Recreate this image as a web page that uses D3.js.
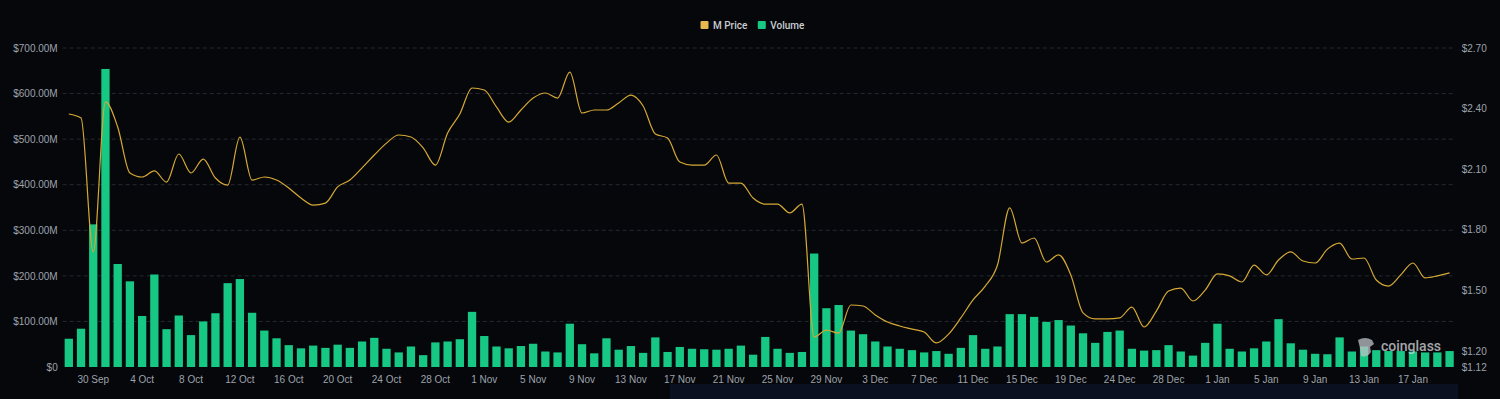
<!DOCTYPE html>
<html>
<head>
<meta charset="utf-8">
<script src="https://cdn.jsdelivr.net/npm/d3@7"></script>
<style>
  html, body { margin: 0; padding: 0; background: #05070b; }
  svg { display: block; font-family: Roboto, "Noto Sans", sans-serif; }
  .tick-label { fill: #9ea3ab; font-size: 10px; font-weight: 500; }
  .legend-label { fill: #c9ccd1; font-size: 10px; font-weight: 500; }
</style>
</head>
<body>
<script>

// categories: one bar per day, 28 Sep -> 20 Jan (one day has no record)
var startDay = new Date(2023, 8, 28),
    endDay = new Date(2024, 0, 21),
    missingDay = "21 Dec";

var fmt = d3.timeFormat("%-d %b");
var days = d3.timeDay.range(startDay, endDay)
    .map(function(d) { return fmt(d); })
    .filter(function(d) { return d != missingDay; });

// volume, millions of USD
var volume = [62, 84, 313, 654, 226, 188, 112, 203, 83, 113,
    70, 100, 118, 184, 193, 119, 80, 63, 48, 41,
    47, 42, 49, 42, 56, 64, 40, 32, 45, 26,
    54, 56, 61, 121, 68, 45, 41, 46, 51, 34,
    32, 95, 50, 30, 63, 38, 46, 31, 65, 33,
    44, 40, 39, 38, 40, 47, 27, 66, 40, 31,
    33, 249, 129, 136, 80, 72, 56, 45, 40, 37,
    32, 35, 29, 42, 70, 40, 45, 116, 116, 110,
    99, 103, 91, 74, 53, 77, 80, 40, 36, 37,
    48, 34, 25, 53, 95, 40, 34, 41, 56, 105,
    52, 38, 29, 28, 65, 34, 45, 37, 35, 35,
    34, 32, 32, 35];

// M price, USD
var price = [2.373, 2.353, 1.690, 2.433, 2.309, 2.081, 2.061, 2.091, 2.036, 2.175,
    2.081, 2.150, 2.056, 2.021, 2.259, 2.046, 2.061, 2.046, 2.007, 1.957,
    1.922, 1.932, 2.012, 2.046, 2.106, 2.170, 2.229, 2.269, 2.259, 2.205,
    2.120, 2.279, 2.373, 2.502, 2.492, 2.408, 2.333, 2.393, 2.452, 2.477,
    2.452, 2.581, 2.378, 2.393, 2.393, 2.428, 2.467, 2.413, 2.274, 2.254,
    2.135, 2.120, 2.120, 2.170, 2.031, 2.031, 1.957, 1.927, 1.927, 1.883,
    1.927, 1.269, 1.303, 1.288, 1.427, 1.422, 1.378, 1.343, 1.323, 1.308,
    1.293, 1.239, 1.283, 1.363, 1.452, 1.521, 1.625, 1.908, 1.734, 1.759,
    1.640, 1.675, 1.576, 1.388, 1.358, 1.358, 1.363, 1.417, 1.318, 1.397,
    1.496, 1.511, 1.447, 1.501, 1.581, 1.571, 1.541, 1.625, 1.576, 1.650,
    1.690, 1.645, 1.635, 1.704, 1.734, 1.655, 1.660, 1.551, 1.521, 1.576,
    1.635, 1.561, 1.571, 1.586];

var volumeTicks = [0, 100, 200, 300, 400, 500, 600, 700];
var priceTicks = [1.12, 1.20, 1.50, 1.80, 2.10, 2.40, 2.70];

var width = 1500,
    height = 399;
var margin = {left: 62.7, right: 44.3, top: 48, bottom: 32};

var svg = d3.select("body").append("svg")
    .attr("width", width)
    .attr("height", height);

svg.append("rect")
    .attr("width", width)
    .attr("height", height)
    .attr("fill", "#05070b");

var x = d3.scaleBand()
    .domain(days)
    .range([margin.left, width - margin.right])
    .paddingInner(0.32)
    .paddingOuter(0.16);

var yVol = d3.scaleLinear()
    .domain([0, 700])
    .range([height - margin.bottom, margin.top]);

var yPrice = d3.scaleLinear()
    .domain([1.12, 2.70])
    .range([height - margin.bottom, margin.top]);

// gridlines
svg.append("g")
    .selectAll("line")
    .data(volumeTicks.slice(1))
    .enter().append("line")
    .attr("x1", margin.left)
    .attr("x2", width - margin.right)
    .attr("y1", function(d) { return yVol(d); })
    .attr("y2", function(d) { return yVol(d); })
    .attr("stroke", "#262931")
    .attr("stroke-dasharray", "4,3");

// left axis
var leftAxis = svg.append("g")
    .attr("transform", "translate(" + (margin.left - 5) + ",0)")
    .call(d3.axisLeft(yVol).tickValues(volumeTicks).tickSize(0).tickPadding(0)
        .tickFormat(function(d) { return d == 0 ? "$0" : "$" + d3.format(".2f")(d) + "M"; }));
leftAxis.select(".domain").remove();
leftAxis.selectAll("text").attr("class", "tick-label").attr("fill", null);

// right axis
var rightAxis = svg.append("g")
    .attr("transform", "translate(" + (width - margin.right + 6) + ",0)")
    .call(d3.axisRight(yPrice).tickValues(priceTicks).tickSize(0).tickPadding(0)
        .tickFormat(function(d) { return "$" + d3.format(".2f")(d); }));
rightAxis.select(".domain").remove();
rightAxis.selectAll("text").attr("class", "tick-label").attr("fill", null);

// bottom axis, a label every 4th day
var bottomAxis = svg.append("g")
    .attr("transform", "translate(0," + (height - margin.bottom) + ")")
    .call(d3.axisBottom(x)
        .tickValues(days.filter(function(d, i) { return i % 4 == 2; }))
        .tickSize(0).tickPadding(9));
bottomAxis.select(".domain").remove();
bottomAxis.selectAll("text").attr("class", "tick-label").attr("fill", null);

// volume bars
svg.append("g")
    .selectAll("rect")
    .data(volume)
    .enter().append("rect")
    .attr("x", function(d, i) { return x(days[i]); })
    .attr("width", x.bandwidth())
    .attr("y", function(d) { return yVol(d); })
    .attr("height", function(d) { return yVol(0) - yVol(d); })
    .attr("fill", "#17c784");

// price line
var line = d3.line()
    .x(function(d, i) { return x(days[i]) + x.bandwidth() / 2; })
    .y(function(d) { return yPrice(d); })
    .curve(d3.curveMonotoneX);

svg.append("path")
    .datum(price)
    .attr("d", line)
    .attr("fill", "none")
    .attr("stroke", "#d6a935")
    .attr("stroke-width", 1.2);

// legend
var legendItems = [{name: "M Price", color: "#e8b94e"}, {name: "Volume", color: "#17c784"}];
var legend = svg.append("g").attr("transform", "translate(700.5,21)");
var lx = 0;
legendItems.forEach(function(item) {
    var g = legend.append("g").attr("transform", "translate(" + lx + ",0)");
    g.append("rect")
        .attr("width", 8)
        .attr("height", 8)
        .attr("rx", 1)
        .attr("fill", item.color);
    var t = g.append("text")
        .attr("class", "legend-label")
        .attr("x", 12.5)
        .attr("y", 7.8)
        .text(item.name);
    lx += 12.5 + t.node().getComputedTextLength() + 10.5;
});

// watermark
var mark = svg.append("g").attr("transform", "translate(1357,338)").attr("opacity", 0.75);
mark.append("path")
    .attr("d", "M1,2 Q8,-2 15,2 L17,6 L13,9 L14,14 Q10,20 4,18 L3,10 Z")
    .attr("fill", "#bfc3c8");
mark.append("text")
    .attr("x", 24)
    .attr("y", 13)
    .attr("fill", "#d8dadd")
    .attr("font-size", 14)
    .attr("font-weight", 500)
    .text("coinglass");

// zoom slider strip
svg.append("rect")
    .attr("x", 670)
    .attr("y", 384)
    .attr("width", 1458 - 670)
    .attr("height", 20)
    .attr("fill", "#0b1020");

</script>
</body>
</html>
